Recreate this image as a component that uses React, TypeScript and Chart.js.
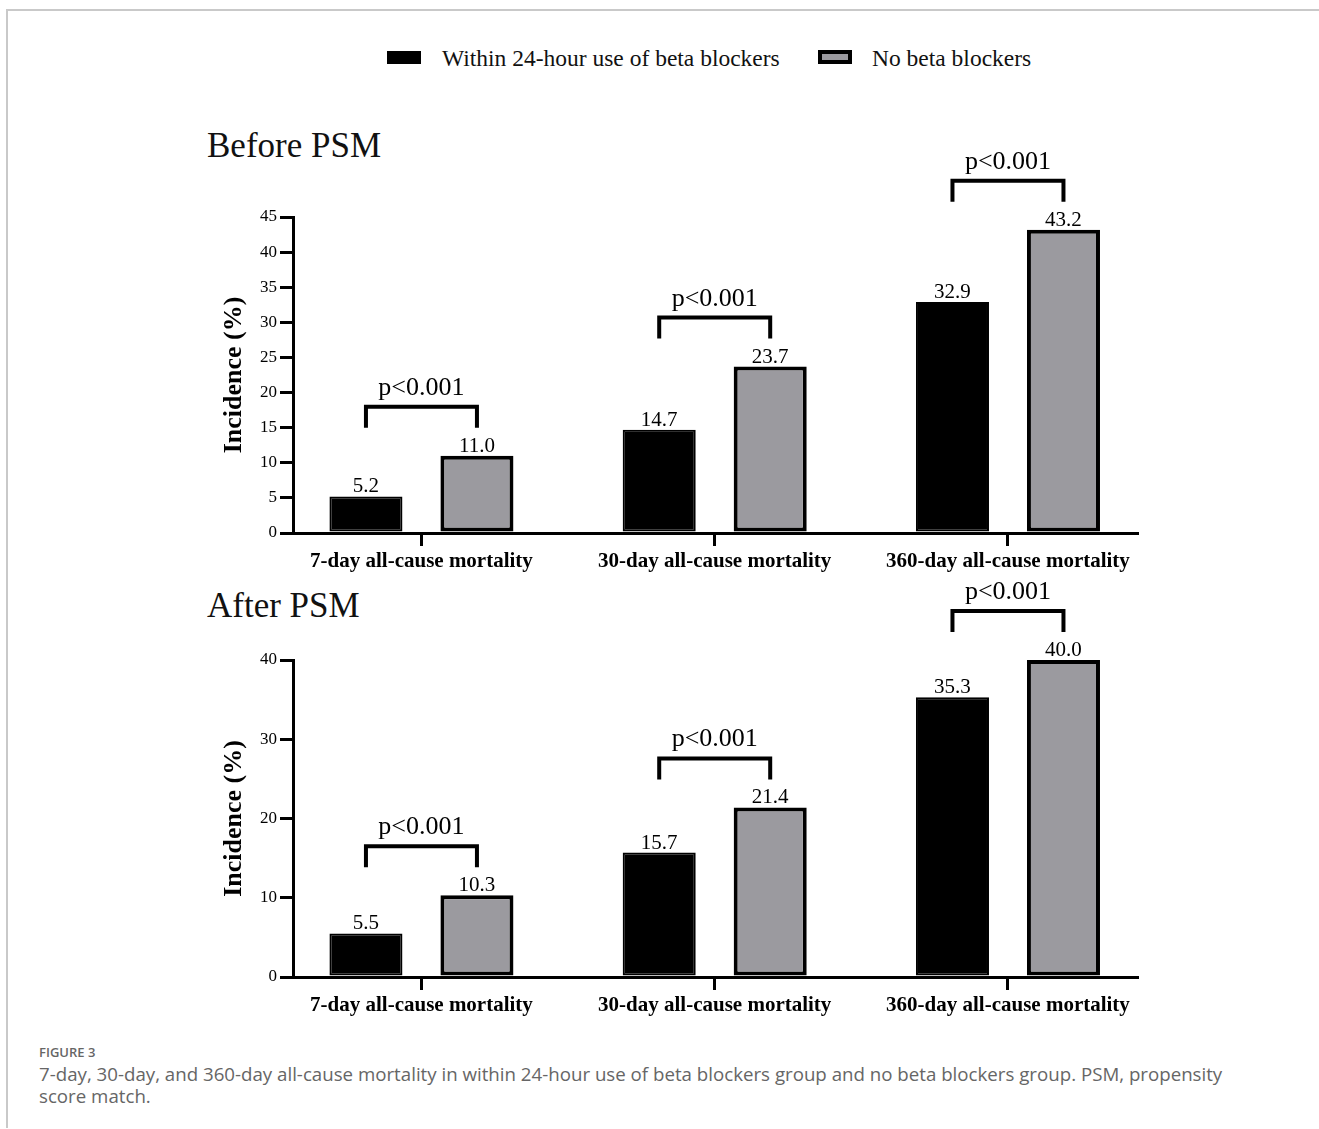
import React, { useEffect, useRef } from "react";
import { Chart, registerables } from "chart.js";

Chart.register(...registerables);

// ---------- data ----------
const categories = [
  "7-day all-cause mortality",
  "30-day all-cause mortality",
  "360-day all-cause mortality",
];
const seriesNames = ["Within 24-hour use of beta blockers", "No beta blockers"];
const beforeWithin = [5.2, 14.7, 32.9];
const beforeNo = [11.0, 23.7, 43.2];
const afterWithin = [5.5, 15.7, 35.3];
const afterNo = [10.3, 21.4, 40.0];
const beforePValues = ["p<0.001", "p<0.001", "p<0.001"];
const afterPValues = ["p<0.001", "p<0.001", "p<0.001"];
const beforeYMax = 45;
const beforeYStep = 5;
const afterYMax = 40;
const afterYStep = 10;
const panelTitles = ["Before PSM", "After PSM"];
const yAxisTitle = "Incidence (%)";
const captionHead = "FIGURE 3";
const captionLines = [
  "7-day, 30-day, and 360-day all-cause mortality in within 24-hour use of beta blockers group and no beta blockers group. PSM, propensity",
  "score match.",
];

// ---------- styles ----------
const SERIF = "'Liberation Serif', 'Times New Roman', serif";
const BLACK = "#000000";
const GRAY = "#9b9a9f";

const annotatePlugin = {
  id: "annotate",
  afterDatasetsDraw(chart: any) {
    const ctx = chart.ctx;
    const m0 = chart.getDatasetMeta(0);
    const m1 = chart.getDatasetMeta(1);
    const pLabels: string[] = chart.options.plugins.annotate.pLabels;
    ctx.save();
    ctx.fillStyle = BLACK;
    ctx.textAlign = "center";
    ctx.textBaseline = "alphabetic";
    ctx.font = `21px ${SERIF}`;
    [m0, m1].forEach((meta: any, di: number) => {
      meta.data.forEach((bar: any, i: number) => {
        const v = chart.data.datasets[di].data[i].y as number;
        ctx.fillText(v.toFixed(1), bar.x, bar.y - 4);
      });
    });
    m0.data.forEach((b0: any, i: number) => {
      const b1 = m1.data[i];
      const top = Math.min(b0.y, b1.y);
      const yb = top - 49;
      const yl = top - 28;
      ctx.lineWidth = 4;
      ctx.strokeStyle = BLACK;
      ctx.lineCap = "butt";
      ctx.lineJoin = "miter";
      ctx.beginPath();
      ctx.moveTo(b0.x, yl);
      ctx.lineTo(b0.x, yb);
      ctx.lineTo(b1.x, yb);
      ctx.lineTo(b1.x, yl);
      ctx.stroke();
      ctx.font = `26px ${SERIF}`;
      ctx.fillText(pLabels[i], (b0.x + b1.x) / 2, yb - 12);
    });
    ctx.restore();
  },
};

type PanelProps = {
  within: number[];
  no: number[];
  pLabels: string[];
  yMax: number;
  yStep: number;
  top: number;
  padTop: number;
  padBottom: number;
};

const CW = 1040;
const CH = 470;

function BarPanel({ within, no, pLabels, yMax, yStep, top, padTop, padBottom }: PanelProps) {
  const ref = useRef<HTMLCanvasElement>(null);
  useEffect(() => {
    const axisGrid = {
      display: true,
      offset: false,
      drawOnChartArea: false,
      drawTicks: true,
      tickLength: 13,
      tickWidth: 3,
      lineWidth: 3,
      tickColor: BLACK,
      color: BLACK,
    };
    const axisBorder = { display: true, color: BLACK, width: 3 };
    const chart = new Chart(ref.current as HTMLCanvasElement, {
      type: "bar",
      data: {
        datasets: [
          {
            label: seriesNames[0],
            data: within.map((v, i) => ({ x: i, y: v })),
            backgroundColor: BLACK,
            borderColor: BLACK,
            borderWidth: 2,
            borderSkipped: false,
          },
          {
            label: seriesNames[1],
            data: no.map((v, i) => ({ x: i, y: v })),
            backgroundColor: GRAY,
            borderColor: BLACK,
            borderWidth: 4,
            borderSkipped: false,
          },
        ],
      } as any,
      options: {
        responsive: false,
        animation: false,
        devicePixelRatio: 1,
        layout: { padding: { left: 65, right: 53, top: padTop, bottom: padBottom } },
        datasets: { bar: { categoryPercentage: 0.757, barPercentage: 0.658 } },
        plugins: {
          legend: { display: false },
          tooltip: { enabled: false },
          annotate: { pLabels },
        } as any,
        scales: {
          x: {
            type: "linear",
            offset: false,
            bounds: "data",
            min: -0.438,
            max: 2.44,
            afterBuildTicks: (axis: any) => {
              axis.ticks = categories.map((_, i) => ({ value: i }));
            },
            afterFit: (s: any) => {
              s.height = 50;
            },
            grid: axisGrid,
            border: axisBorder,
            ticks: {
              autoSkip: false,
              maxRotation: 0,
              padding: 3,
              color: BLACK,
              font: { family: SERIF, size: 21, weight: "bold" },
              callback: (v: any) => categories[Math.round(Number(v))] ?? "",
            },
          },
          y: {
            min: 0,
            max: yMax,
            afterFit: (s: any) => {
              s.width = 78;
            },
            grid: axisGrid,
            border: axisBorder,
            ticks: {
              stepSize: yStep,
              padding: 3,
              color: BLACK,
              font: { family: SERIF, size: 17 },
            },
            title: {
              display: true,
              text: yAxisTitle,
              color: BLACK,
              font: { family: SERIF, size: 26, weight: "bold" },
              padding: { top: 4, bottom: 4 },
            },
          },
        } as any,
      },
      plugins: [annotatePlugin],
    });
    return () => chart.destroy();
  }, []);
  return (
    <canvas
      ref={ref}
      width={CW}
      height={CH}
      style={{ position: "absolute", left: 150, top, width: CW, height: CH }}
    />
  );
}

export default function App() {
  const legendFont = 23.5;
  return (
    <div>
      {/* frame */}
      <div style={{ position: "absolute", left: 6, top: 9, width: 1313, height: 2, background: "#c9c9c9" }} />
      <div style={{ position: "absolute", left: 6, top: 9, width: 2, height: 1119, background: "#c9c9c9" }} />

      {/* legend */}
      <div style={{ position: "absolute", left: 387, top: 51, width: 34, height: 13, background: BLACK }} />
      <div
        style={{
          position: "absolute",
          left: 442,
          top: 58.5 - 0.506 * legendFont,
          fontFamily: SERIF,
          fontSize: legendFont,
          lineHeight: 1,
          color: "#111",
          whiteSpace: "nowrap",
        }}
      >
        {seriesNames[0]}
      </div>
      <div
        style={{
          position: "absolute",
          left: 818,
          top: 50,
          width: 34,
          height: 14,
          boxSizing: "border-box",
          border: `4px solid ${BLACK}`,
          background: GRAY,
        }}
      />
      <div
        style={{
          position: "absolute",
          left: 872,
          top: 58.5 - 0.506 * legendFont,
          fontFamily: SERIF,
          fontSize: legendFont,
          lineHeight: 1,
          color: "#111",
          whiteSpace: "nowrap",
        }}
      >
        {seriesNames[1]}
      </div>

      {/* panel titles */}
      <div
        style={{
          position: "absolute",
          left: 207,
          top: 146 - 0.506 * 35,
          fontFamily: SERIF,
          fontSize: 35,
          lineHeight: 1,
          color: "#111",
          whiteSpace: "nowrap",
        }}
      >
        {panelTitles[0]}
      </div>
      <div
        style={{
          position: "absolute",
          left: 207,
          top: 606 - 0.506 * 35,
          fontFamily: SERIF,
          fontSize: 35,
          lineHeight: 1,
          color: "#111",
          whiteSpace: "nowrap",
        }}
      >
        {panelTitles[1]}
      </div>

      <BarPanel
        within={beforeWithin}
        no={beforeNo}
        pLabels={beforePValues}
        yMax={beforeYMax}
        yStep={beforeYStep}
        top={120}
        padTop={97}
        padBottom={7}
      />
      <BarPanel
        within={afterWithin}
        no={afterNo}
        pLabels={afterPValues}
        yMax={afterYMax}
        yStep={afterYStep}
        top={570}
        padTop={90}
        padBottom={13}
      />

      {/* caption */}
      <div
        style={{
          position: "absolute",
          left: 39,
          top: 1046,
          fontFamily: "'Open Sans', sans-serif",
          fontWeight: 600,
          fontSize: 13,
          lineHeight: 1,
          color: "#666",
          whiteSpace: "nowrap",
        }}
      >
        {captionHead}
      </div>
      {captionLines.map((line, i) => (
        <div
          key={i}
          style={{
            position: "absolute",
            left: 39,
            top: 1065 + i * 22,
            fontFamily: "'Open Sans', sans-serif",
            fontSize: 18.7,
            lineHeight: 1,
            color: "#666",
            whiteSpace: "nowrap",
          }}
        >
          {line}
        </div>
      ))}
    </div>
  );
}
